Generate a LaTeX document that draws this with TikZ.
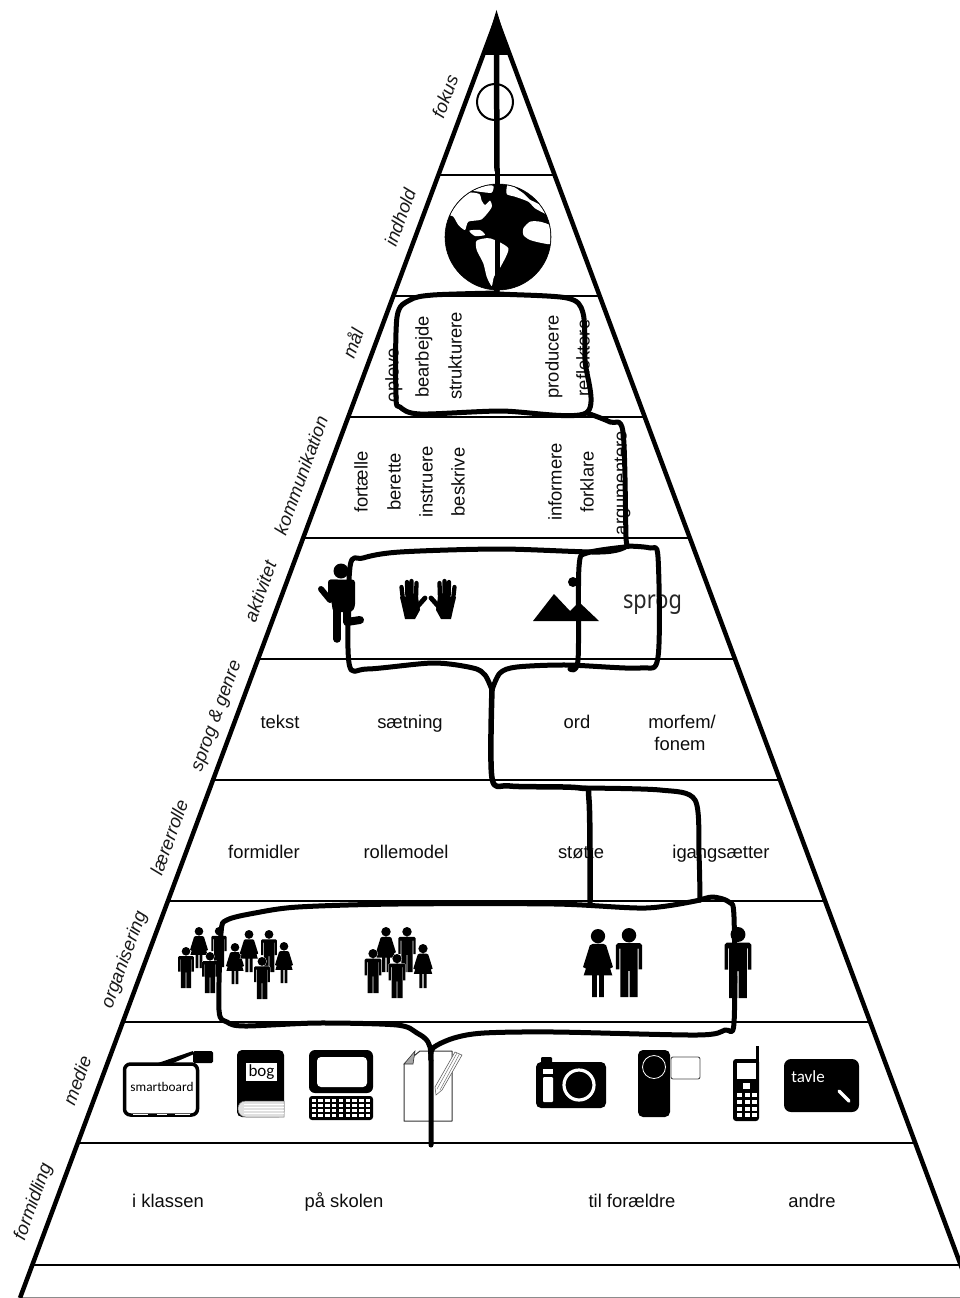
\documentclass[tikz,border=0pt]{standalone}
\usepackage{fontspec}
\setmainfont{Liberation Sans}
\newfontfamily\handfont{Carlito}
\newfontfamily\sprogfont{Noto Sans}
\newcommand\manshape{(0,10.5) circle (10.5) (-19,25) -- (-16,22) -- (16,22) -- (19,25) -- (19,60) -- (14,60) -- (14,30) -- (12.5,30) -- (12.5,100) -- (1,100) -- (1,62) -- (-1,62) -- (-1,100) -- (-12.5,100) -- (-12.5,30) -- (-14,30) -- (-14,60) -- (-19,60) -- cycle}
\newcommand\womanshape{(0,10.5) circle (10.5) (-8,22) -- (8,22) -- (12,24) -- (22,56) -- (18,58) -- (11,37) -- (21,68) -- (8.5,68) -- (8.5,100) -- (1.5,100) -- (1.5,68) -- (-1.5,68) -- (-1.5,100) -- (-8.5,100) -- (-8.5,68) -- (-21,68) -- (-11,37) -- (-18,58) -- (-22,56) -- (-12,24) -- cycle}
\newcommand\person[4]{\pic[shift={(#2,#3)},scale=#4/100] {#1};}
\tikzset{
  manfig/.pic={\path[draw=white,line width=.7pt] \manshape; \fill[black] \manshape;},
  womanfig/.pic={\path[draw=white,line width=.7pt] \womanshape; \fill[black] \womanshape;},
  handfig/.pic={
    \draw[line width=4.3pt,line cap=round] (401.5,587) -- (403,600) (407,582) -- (407.5,598) (411.5,581) -- (411.5,598) (416.5,583) -- (416,598);
    \draw[line width=4.8pt,line cap=round] (425,598) -- (417,607);
    \fill (400,597) -- (418,597) -- (420,610) -- (415,619) -- (405,619) -- (403,610) -- cycle;
  },
  side/.style={line width=4.5pt,line join=miter},
  rule/.style={line width=1.7pt},
  hand/.style={line width=5pt,line cap=round,line join=round},
  lab/.style={font=\fontsize{18.5}{20}\selectfont\itshape,rotate=70,inner sep=0pt,text height=13pt,text depth=4pt,text=black!90},
  word/.style={font=\fontsize{18.4}{20}\selectfont,inner sep=0pt,text height=13pt,text depth=4pt,text=black!95},
  vword/.style={word,rotate=90},
}
\begin{document}
\begin{tikzpicture}[x=1pt,y=-1pt]
\useasboundingbox (0,0) rectangle (960,1298);
\clip (0,0) rectangle (960,1298);
\fill[white] (0,0) rectangle (960,1298);
% horizontal rules
\foreach \yy in {175,296,417,538,659,780,901,1022,1143,1265}{
  \pgfmathsetmacro\hw{.3723*(\yy-19)}
  \draw[rule] (496.5-\hw,\yy) -- (496.5+\hw,\yy);
}
\draw[line width=1pt,black!45] (20,1297) -- (960,1297);
\draw[side] (20,1298) -- (496.5,19) -- (973,1298);
\fill (496.5,10) -- (483,55) -- (510,55) -- cycle;
% labels
\node[lab] (l1) at (447,97) {fokus};
\node[lab] (l2) at (402,218) {indhold};
\node[lab] (l3) at (355,344) {mål};
\node[lab] (l4) at (303,476) {kommunikation};
\node[lab] (l5) at (262,592) {aktivitet};
\node[lab] (l6) at (217,716) {sprog \& genre};
\node[lab] (l7) at (171,838) {lærerrolle};
\node[lab] (l8) at (125,960) {organisering};
\node[lab] (l9) at (79,1081) {medie};
\node[lab] (l10) at (34,1202) {formidling};
% target and globe
\draw[line width=2pt] (495,102) circle (18);
\fill[black] (498,237) circle (53);
\begin{scope}
\clip (498,237) circle (52.5);
\begin{scope}[shift={(440,180)},scale=1/3]
\fill[white] plot[smooth cycle,tension=.4] coordinates {(20,100) (45,60) (85,38) (118,42) (125,62) (135,75) (150,62) (155,82) (125,118) (85,125) (75,150) (55,135) (40,110)};
\fill[white] plot[smooth cycle,tension=.4] coordinates {(88,152) (120,150) (135,165) (105,168)};
\fill[white] plot[smooth cycle,tension=.4] coordinates {(110,182) (150,175) (205,205) (182,260) (162,290) (155,318) (140,290) (130,250) (110,210)};
\fill[white] plot[smooth cycle,tension=.4] coordinates {(250,145) (270,125) (300,125) (335,140) (335,190) (310,190) (270,180) (250,165)};
\fill[white] plot[smooth cycle,tension=.4] coordinates {(205,12) (250,40) (268,58) (300,75) (325,105) (285,85) (265,65) (225,50) (200,42)};
\fill[white] plot[smooth cycle,tension=.4] coordinates {(90,30) (130,16) (160,18) (155,38) (125,36)};
\end{scope}
\end{scope}
\draw[line width=.6pt] (498,237) circle (53);
% verbs
\node[vword] (v1) at (394,375) {opleve};
\node[vword] (v2) at (424,357) {bearbejde};
\node[vword] (v3) at (457,356) {strukturere};
\node[vword] (v4) at (554,357) {producere};
\node[vword] (v5) at (585,358) {reflektere};
\node[vword] (k1) at (363,482) {fortælle};
\node[vword] (k2) at (396,482) {berette};
\node[vword] (k3) at (428,482) {instruere};
\node[vword] (k4) at (460,482) {beskrive};
\node[vword] (k5) at (557,482) {informere};
\node[vword] (k6) at (589,482) {forklare};
\node[vword] (k7) at (622,483) {argumentere};
\node[word] (s1) at (280,723.5) {tekst};
\node[word] (s2) at (410,723.5) {sætning};
\node[word] (s3) at (577,723.5) {ord};
\node[word] (s4) at (682,723.5) {morfem/};
\node[word] (s5) at (680,745.5) {fonem};
\node[word] (r1) at (264,853.5) {formidler};
\node[word] (r2) at (406,853.5) {rollemodel};
\node[word] (r3) at (581,853.5) {støtte};
\node[word] (r4) at (721,853.5) {igangsætter};
\node[word] (f1) at (168,1202.5) {i klassen};
\node[word] (f2) at (344,1202.5) {på skolen};
\node[word] (f3) at (632,1202.5) {til forældre};
\node[word] (f4) at (812,1202.5) {andre};
\node[inner sep=0pt,anchor=base,font=\fontsize{25}{26}\selectfont\sprogfont,text=black!85] (sp) at (652.5,608) {\scalebox{.87}[1]{sprog}};
% walking person
\fill (341,571) circle (7.5);
\draw[line width=6pt,line cap=round,line join=round] (321,589) -- (330,600);
\fill[rounded corners=3pt] (328,579.5) -- (355,579.5) -- (355,607) -- (352,612) -- (333,612) -- cycle;
\fill[rounded corners=3pt] (328,579.5) rectangle (340,600);
\draw[line width=7.5pt,line cap=round] (337,605) -- (337,639);
\draw[line width=8pt,line cap=round,line join=round] (347,608) -- (347,622) -- (360,620);
% hands
\pic {handfig};
\pic[shift={(856,0)},xscale=-1] {handfig};
% mountains
\fill (533,621) -- (554,594) -- (570,611) -- (579,602) -- (599,621) -- cycle;
\fill (573,582) circle (5);
% people
\person{womanfig}{199}{927}{41}
\person{manfig}{219}{927}{40}
\person{manfig}{186}{947}{41}
\person{manfig}{210}{952}{41}
\person{womanfig}{235}{943}{41}
\person{womanfig}{249}{930}{42}
\person{manfig}{269}{930}{42}
\person{womanfig}{284}{942}{41}
\person{manfig}{262}{957}{42}
\person{womanfig}{386}{927}{45}
\person{manfig}{407}{927}{45}
\person{manfig}{373}{949}{44}
\person{manfig}{397}{954}{44}
\person{womanfig}{423}{944}{44}
\person{womanfig}{598}{929}{68}
\person{manfig}{629}{928}{69}
\person{manfig}{738}{927}{71}
% smartboard
\draw[line width=3.5pt,rounded corners=6pt,fill=white] (124.5,1064) rectangle (197.5,1115);
\fill[rounded corners=1.5pt] (193,1051) rectangle (213,1063);
\fill (158,1063) -- (193,1051) -- (193,1054.5) -- (173,1063) -- cycle;
\draw[line width=1.2pt,white] (133,1114.5) -- (148,1114.5) (157,1114.5) -- (167,1114.5) (175,1114.5) -- (190,1114.5);
\node[inner sep=0pt,anchor=base,font=\fontsize{13.3}{15}\selectfont\handfont] (m1) at (162,1091) {smartboard};
% book
\fill[rounded corners=5pt] (237,1117) -- (237,1050) -- (284,1050) -- (284,1117) -- cycle;
\fill[black!12,draw=black!55,line width=.5pt] (284,1101) -- (246,1101) .. controls (240,1101) and (238,1105) .. (238,1109) .. controls (238,1114) and (242,1117) .. (246,1117) -- (284,1117) -- cycle;
\foreach \yy in {1104,1107,1110,1113}{\draw[white,line width=.7pt] (244,\yy) -- (283.5,\yy);}
\fill[white] (246,1063) rectangle (277,1081);
\node[inner sep=0pt,anchor=base,font=\fontsize{17}{18}\selectfont\handfont] (m2) at (261.5,1076.5) {bog};
% computer
\fill[rounded corners=6pt] (309,1050) rectangle (373,1093);
\fill[white,rounded corners=4pt] (317,1057) rectangle (367,1087);
\fill[rounded corners=3pt] (309,1096) rectangle (373,1120);
\foreach \cc in {0,...,8}{\foreach \rr in {0,...,3}{
  \fill[white] (311.5+\cc*6.8,1098.5+\rr*5) rectangle ++(4.5,3.4);
}}
% paper and pencil
\draw[line width=1pt,black!80,line join=round] (420,1051) -- (452,1051) -- (452,1121) -- (404,1121) -- (404,1064) -- cycle;
\fill[black!35,draw=black!80,line width=.6pt] (415,1051) -- (404,1064) -- (413,1064) -- cycle;
\fill[white,draw=black!60,line width=.6pt] (455,1052) -- (462,1055) -- (442,1090) -- (436,1095) -- (435,1087) -- cycle;
\draw[black!55,line width=.5pt] (457,1053) -- (437,1089) (459.5,1054) -- (440,1090);
% camera
\fill[rounded corners=5pt] (536,1062) rectangle (606,1108);
\fill[rounded corners=1pt] (541,1057) rectangle (552,1065);
\fill[white] (543,1069) rectangle (553,1074);
\fill[white,rounded corners=1pt] (543,1077) rectangle (553,1102);
\draw[white,line width=3.2pt] (579,1085) circle (15);
% video camera
\fill[rounded corners=5pt] (638,1050) rectangle (670,1117);
\draw[white,line width=.8pt] (654,1067) circle (11.5);
\draw[black!70,line width=.9pt,rounded corners=2pt,fill=white] (671,1057) rectangle (700,1079);
% phone
\fill[rounded corners=3pt] (733,1059) rectangle (759,1121);
\draw[line width=3pt] (757.5,1046) -- (757.5,1063);
\fill[white] (737,1063) rectangle (756,1079);
\fill[white] (743,1083) rectangle (750,1089);
\foreach \cc in {0,1,2}{\foreach \yy in {1093,1100,1106.5,1113}{
  \fill[white] (737+\cc*7.5,\yy) rectangle ++(5,4);
}}
% tavle
\fill[rounded corners=7pt] (784,1059) rectangle (859,1112);
\node[inner sep=0pt,anchor=base,text=white,font=\fontsize{17}{18}\selectfont\handfont] (m3) at (808,1082.5) {tavle};
\draw[white,line width=3.5pt,line cap=round] (839,1091) -- (849,1101);
% hand-drawn route
\draw[hand,line width=5.5pt] (496.5,52) -- (497,170);
\draw[hand] (497,170) -- (497,290);
\draw[hand] plot[smooth,tension=.5] coordinates {(497,292) (500,294) (567,298) (583,313) (585,360) (586,413) (500,411) (420,414) (400,407) (396,397) (397,317) (410,300) (433,295) (497,293) };
\draw[hand] plot[smooth,tension=.5] coordinates {(587,413) (610,422) (623,432) (626,537) (627,546) (600,552) (500,549) (400,552) (363,558) (350,567) (349,663) (367,669) (433,663) (473,668) (485,675) (492,690)};
\draw[hand] plot[smooth,tension=.5] coordinates {(627,546) (650,548) (658,557) (658,657) (640,668) (567,665) (517,667) (500,673) (492,690)};
\draw[hand] plot[smooth,tension=.5] coordinates {(625,547) (587,553) (579,567) (578,660) (570,669)};
\draw[hand,line width=5.5pt] plot[smooth,tension=.5] coordinates {(492,690) (492,778) (510,786) (580,788) (589,800) (590,902)};
\draw[hand] plot[smooth,tension=.5] coordinates {(580,788) (660,790) (695,800) (699,855) (700,900)};
\draw[hand] plot[smooth,tension=.5] coordinates {(700,900) (646,908) (555,904) (397,904) (298,907) (255,913) (227,920) (221,933) (219,1010) (227,1022) (245,1026) (318,1023) (397,1025) (417,1033) (428,1042) (431,1060) (431,1145)};
\draw[hand] plot[smooth,tension=.5] coordinates {(700,900) (713,897) (729,902) (734,917) (734,1023) (725,1030) (697,1035) (555,1032) (484,1033) (454,1038) (433,1048) (431,1060)};
\end{tikzpicture}
\end{document}
